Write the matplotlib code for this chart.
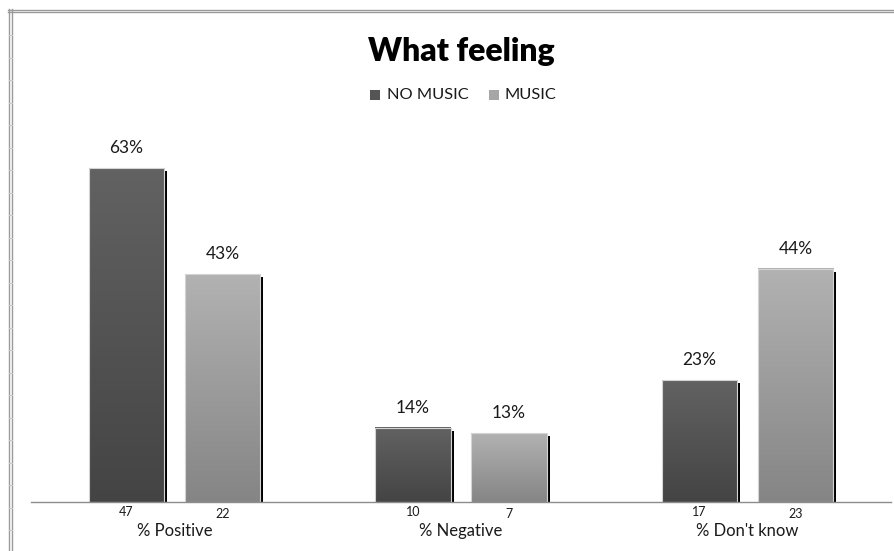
import numpy as np
import matplotlib
matplotlib.use("Agg")
import matplotlib.pyplot as plt
from matplotlib.colors import LinearSegmentedColormap
from matplotlib.transforms import ScaledTranslation, blended_transform_factory
from matplotlib.lines import Line2D

plt.rcParams["font.family"] = ["Lato", "DejaVu Sans"]

categories = ["% Positive", "% Negative", "% Don't know"]
series_names = ["NO MUSIC", "MUSIC"]
no_music_pct = [63, 14, 23]
music_pct = [43, 13, 44]
no_music_n = [47, 10, 17]
music_n = [22, 7, 23]

W, H = 895, 551
fig = plt.figure(figsize=(W / 100, H / 100), dpi=100)
fig.patch.set_facecolor("white")

# worksheet frame: double rules along the top and left edge with a ruler
for y0 in (9.5, 11.5):
    fig.add_artist(Line2D([8 / W, 1], [1 - y0 / H] * 2, color="#9a9a9a", lw=1.0))
for x0 in (8.5, 12.5):
    fig.add_artist(Line2D([x0 / W] * 2, [0, 1 - 9 / H], color="#9a9a9a", lw=1.0))
for ty in np.arange(35, H, 22.5):
    fig.add_artist(Line2D([9 / W, 12.5 / W], [1 - ty / H] * 2, color="#c8c8c8", lw=0.8))

# plot area in pixels
left_px, right_px, base_px, top_px = 31.25, 890.75, 502, 131
ax = fig.add_axes([left_px / W, (H - base_px) / H,
                   (right_px - left_px) / W, (base_px - top_px) / H])
ax.set_facecolor("white")

x = np.arange(len(categories))
offset = 0.1675
width = 0.262

grads = [
    LinearSegmentedColormap.from_list("dark", ["#444444", "#626262"]),
    LinearSegmentedColormap.from_list("light", ["#858585", "#b2b2b2"]),
]
shadow_tf = ax.transData + ScaledTranslation(3 / 100, -3 / 100, fig.dpi_scale_trans)

for i, (vals, cmap) in enumerate(zip([no_music_pct, music_pct], grads)):
    pos = x + (-offset if i == 0 else offset)
    # drop shadow
    ax.bar(pos, vals, width, color="black", transform=shadow_tf, zorder=1)
    bars = ax.bar(pos, vals, width, facecolor="none", edgecolor="#d4d4d4",
                  linewidth=0.8, zorder=3)
    for b in bars:
        grad = np.linspace(0, 1, 256).reshape(-1, 1)
        ax.imshow(grad, cmap=cmap, origin="lower", aspect="auto",
                  extent=[b.get_x(), b.get_x() + b.get_width(), 0, b.get_height()],
                  zorder=2)
        ax.text(b.get_x() + b.get_width() / 2, b.get_height(), f"{b.get_height():.0f}%",
                transform=ax.transData + ScaledTranslation(0, 12 / 100, fig.dpi_scale_trans),
                ha="center", va="bottom", fontsize=12.5, color="#1a1a1a")

# counts under each bar and category names
tb = blended_transform_factory(ax.transData, ax.transAxes)
for xi, a, b in zip(x, no_music_n, music_n):
    ax.text(xi - offset, -10 / 371, str(a), transform=tb, ha="center", va="center",
            fontsize=9, color="#1a1a1a")
    ax.text(xi + offset, -12 / 371, str(b), transform=tb, ha="center", va="center",
            fontsize=9, color="#1a1a1a")
for xi, c in zip(x, categories):
    ax.text(xi, -29 / 371, c, transform=tb, ha="center", va="center",
            fontsize=12, color="#1a1a1a")

ax.set_xlim(-0.5, len(categories) - 0.5)
ax.set_ylim(0, 70)
for s in ("top", "right", "left"):
    ax.spines[s].set_visible(False)
ax.spines["bottom"].set_color("#8c8c8c")
ax.spines["bottom"].set_linewidth(1.0)
ax.spines["bottom"].set_zorder(4)
ax.set_xticks([])
ax.set_yticks([])

fig.text(461 / W, 1 - 52 / H, "What feeling", ha="center", va="center",
         fontsize=23, fontweight="heavy", color="black")

# legend
leg_y = 1 - 95 / H
for (sx, tx, name, col) in [(370, 387, series_names[0], "#555555"),
                             (489, 505, series_names[1], "#a6a6a6")]:
    fig.patches.append(plt.Rectangle((sx / W, leg_y - 5 / H), 10 / W, 10 / H,
                                     transform=fig.transFigure, facecolor=col,
                                     edgecolor="none"))
    fig.text(tx / W, leg_y, name, ha="left", va="center", fontsize=11.8, color="#1a1a1a")

fig.savefig("out.png", dpi=100, facecolor="white")
